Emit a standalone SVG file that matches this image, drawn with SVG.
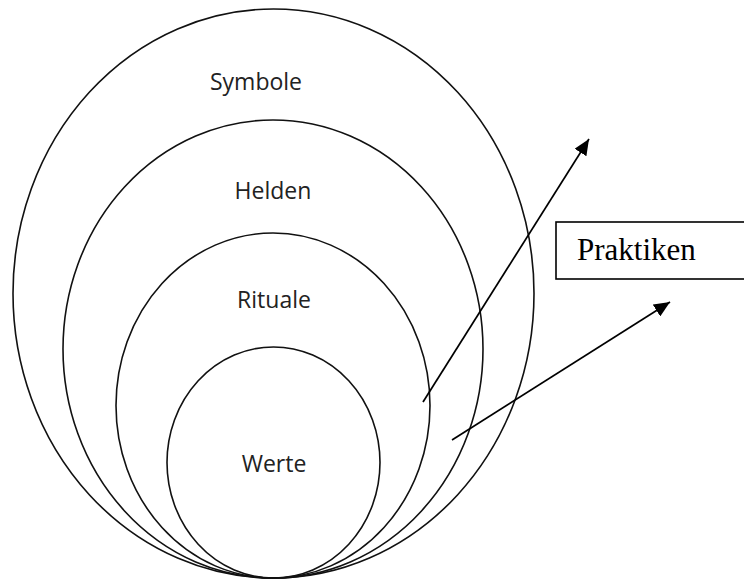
<svg xmlns="http://www.w3.org/2000/svg" width="744" height="580" viewBox="0 0 744 580">
  <style>
    .ring { fill: none; stroke: #111; stroke-width: 1.6; }
    .lbl { font-family: "Open Sans", "Liberation Sans", sans-serif; font-size: 23px; fill: #222; text-anchor: middle; }
    .box { fill: #fff; stroke: #000; stroke-width: 1.6; }
    .boxlbl { font-family: "Liberation Serif", "Times New Roman", serif; font-size: 31px; fill: #000; }
    .conn { fill: none; stroke: #000; stroke-width: 1.7; marker-end: url(#arrow); }
  </style>
  <defs>
    <marker id="arrow" markerUnits="userSpaceOnUse" markerWidth="18" markerHeight="14" refX="16" refY="7" orient="auto">
      <path d="M0,0 L16,7 L0,14 Z" fill="#000"/>
    </marker>
  </defs>
  <rect width="744" height="580" fill="#fff"/>
  <g id="symbole">
    <ellipse class="ring" cx="273.5" cy="293.5" rx="260.5" ry="284.5"/>
    <text class="lbl" x="256" y="90">Symbole</text>
  </g>
  <g id="helden">
    <ellipse class="ring" cx="273" cy="349" rx="210" ry="229"/>
    <text class="lbl" x="273" y="199">Helden</text>
  </g>
  <g id="rituale">
    <ellipse class="ring" cx="273" cy="405.5" rx="157" ry="172.5"/>
    <text class="lbl" x="274" y="308">Rituale</text>
  </g>
  <g id="werte">
    <ellipse class="ring" cx="273.5" cy="462.5" rx="106.5" ry="115.5"/>
    <text class="lbl" x="274" y="472">Werte</text>
  </g>
  <g id="praktiken">
    <rect class="box" x="556" y="222" width="200" height="57"/>
    <text class="boxlbl" x="577" y="260">Praktiken</text>
  </g>
  <g id="connectors">
    <line class="conn" x1="423" y1="402" x2="589" y2="139"/>
    <line class="conn" x1="452" y1="440" x2="670" y2="302"/>
  </g>
</svg>
